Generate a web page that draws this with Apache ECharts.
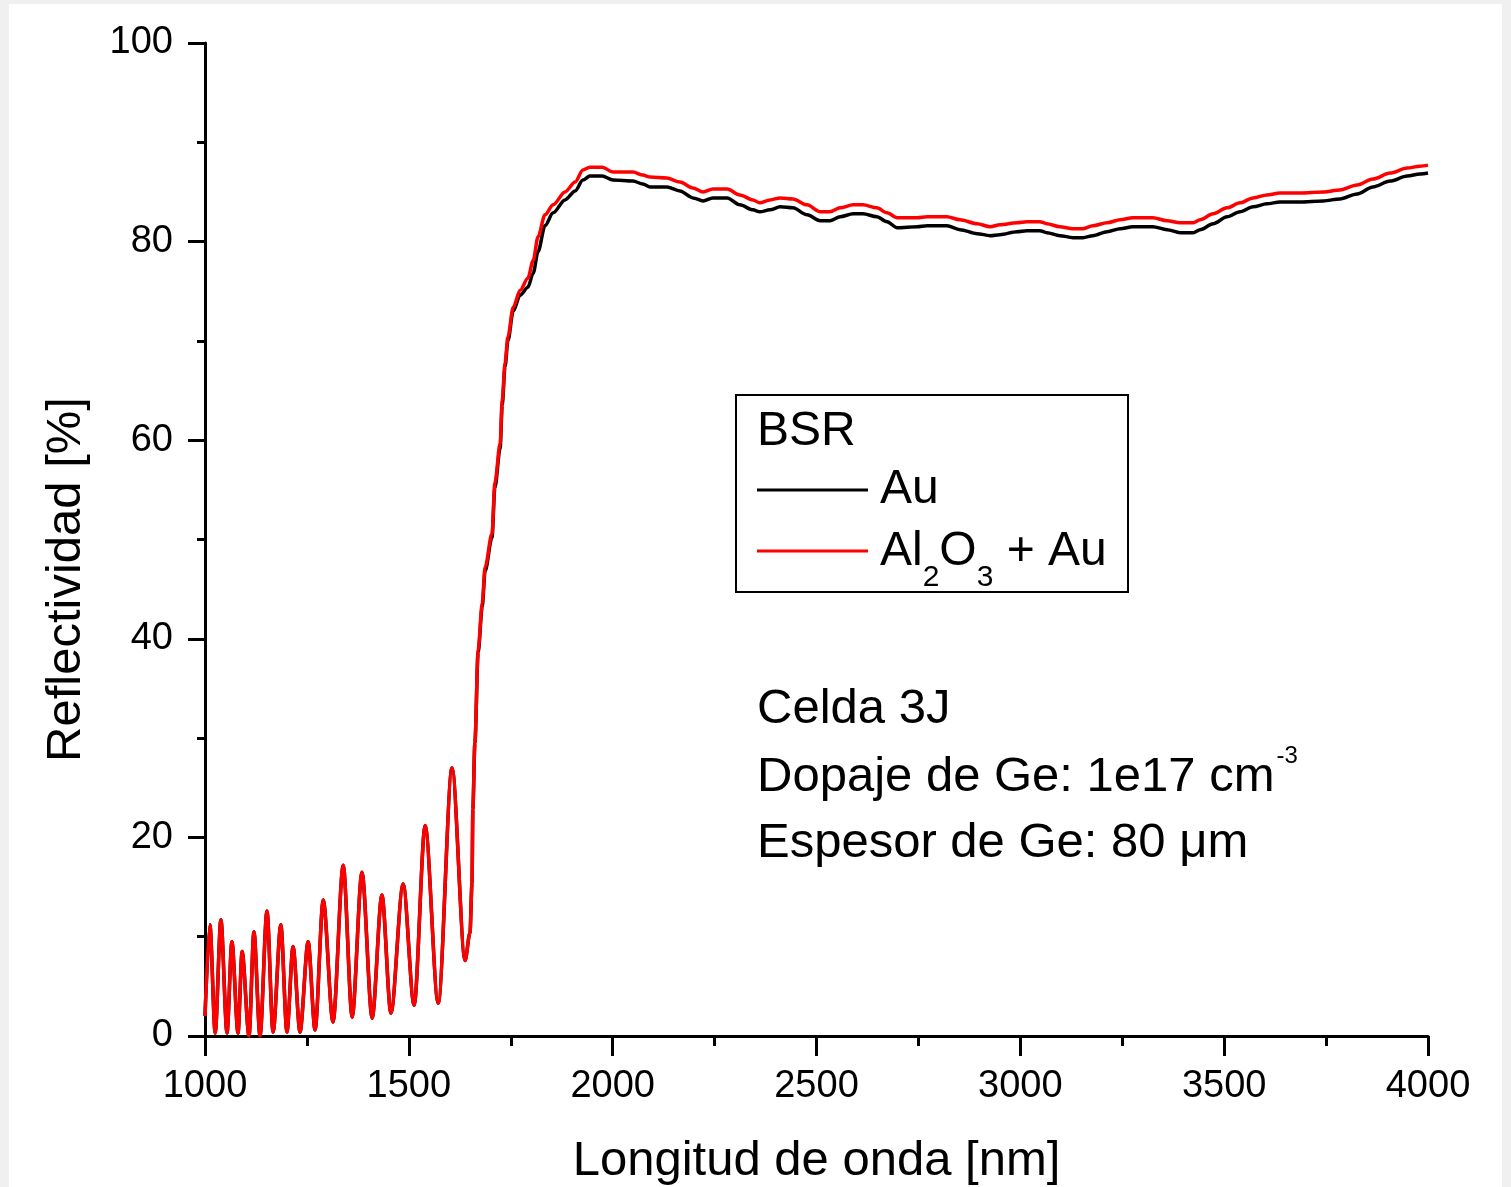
<!DOCTYPE html>
<html>
<head>
<meta charset="utf-8">
<script src="https://cdn.jsdelivr.net/npm/echarts@6/dist/echarts.min.js"></script>
<style>
html,body{margin:0;padding:0;background:#f0f0f0;width:1511px;height:1187px;overflow:hidden}
#chart{position:absolute;left:9px;top:4px;width:1493px;height:1183px;background:#ffffff}
</style>
</head>
<body>
<div id="chart"></div>
<script>
// Wavelength [nm]
const wavelength = [
  1000,1012,1025,1039,1054,1066,1081,1091,1108,1120,1135,1152,1167,1186,1201,1216,1233,1253,1270,1290,1314,1339,1361,1385,1410,1434,1456,1486,1513,1540,1572,1606,1638,
  1650,1655,1657,1662,1670,1680,1687,1704,1711,1724,1729,1736,1743,1756,1773,1792,1805,1817,1834,1854,1883,1908,1927,1944,
  1974,2001,2050,2074,2092,2133,2165,2197,2222,2246,2281,2312,2344,2361,2386,2411,2442,2477,2509,2533,2558,2590,2614,2648,2673,2698,2747,2771,2820,2852,2894,2926,2950,2992,3016,3048,3065,3097,3129,3154,3178,3213,3245,3276,3325,3360,3392,3424,3441,3473,3507,3539,3571,3605,3637,3686,3743,3784,3826,3865,3907,3949,3980,4000
];
// Reflectividad [%] - Au
const reflAu = [
  2.0,11.2,0.3,11.7,0.3,9.5,0.3,8.5,0.0,10.5,0.0,12.6,0.4,11.2,0.4,9.0,0.4,9.5,0.6,13.7,1.4,17.2,1.9,16.5,1.8,14.2,2.3,15.3,3.1,21.2,3.3,27.0,7.6,
  10.4,15.4,22.8,29.5,38.6,43.2,46.8,50.2,55.2,59.2,63.5,67.4,70.0,73.0,74.6,75.4,76.8,79.0,81.6,82.9,84.2,85.1,86.2,86.6,
  86.6,86.2,86.1,85.8,85.5,85.5,85.1,84.4,84.1,84.4,84.4,83.7,83.2,83.0,83.2,83.5,83.4,82.7,82.1,82.1,82.5,82.8,82.8,82.5,82.0,81.4,81.5,81.6,81.6,81.2,80.8,80.6,80.7,81.0,81.1,81.1,80.9,80.6,80.4,80.4,80.6,81.0,81.3,81.5,81.5,81.2,80.9,80.9,81.2,81.8,82.5,83.0,83.5,83.8,84.0,84.0,84.1,84.3,84.8,85.5,86.1,86.6,86.8,86.9
];
// Reflectividad [%] - Al2O3 + Au
const reflAl2O3Au = [
  2.0,11.2,0.3,11.7,0.3,9.5,0.3,8.5,0.0,10.5,0.0,12.6,0.4,11.2,0.4,9.0,0.4,9.5,0.6,13.7,1.4,17.2,1.9,16.5,1.8,14.2,2.3,15.3,3.1,21.2,3.3,27.0,7.6,
  10.4,15.4,22.8,29.5,38.9,43.6,47.2,50.6,55.7,59.7,64.0,67.8,70.4,73.4,75.1,76.3,78.1,80.5,82.7,83.7,85.0,86.0,87.2,87.5,
  87.5,87.0,87.0,86.7,86.5,86.4,86.0,85.4,85.0,85.3,85.3,84.7,84.2,83.9,84.2,84.4,84.3,83.7,83.0,83.0,83.4,83.7,83.7,83.4,82.9,82.4,82.4,82.5,82.5,82.2,81.8,81.5,81.7,81.9,82.0,82.0,81.8,81.5,81.3,81.3,81.6,81.9,82.2,82.4,82.4,82.1,81.9,81.9,82.2,82.8,83.4,83.9,84.4,84.7,84.9,84.9,85.0,85.2,85.7,86.3,86.9,87.4,87.6,87.7
];
const seriesNames = ['Au', 'Al2O3 + Au'];
const legendTitle = 'BSR';
const noteLines = ['Celda 3J', 'Dopaje de Ge: 1e17 cm', '-3', 'Espesor de Ge: 80 μm'];

const FONT = '"Liberation Sans", Arial, sans-serif';
const chart = echarts.init(document.getElementById('chart'), null, {renderer: 'canvas'});

const axisCommon = {
  type: 'value',
  nameLocation: 'middle',
  nameMoveOverlap: false,
  axisLine: {show: true, onZero: false, lineStyle: {color: '#000', width: 3}},
  splitLine: {show: false},
  minorSplitLine: {show: false}
};

const option = {
  backgroundColor: '#ffffff',
  animation: false,
  grid: {left: 196, top: 39, width: 1223, height: 993, containLabel: false, outerBoundsMode: 'none'},
  xAxis: Object.assign({}, axisCommon, {
    min: 1000, max: 4000, interval: 500,
    name: 'Longitud de onda [nm]', nameGap: 101,
    nameTextStyle: {fontFamily: FONT, fontSize: 49, color: '#000'},
    axisTick: {show: true, inside: false, length: 20, lineStyle: {color: '#000', width: 3}},
    minorTick: {show: true, splitNumber: 2, length: 10, lineStyle: {color: '#000', width: 3}},
    axisLabel: {fontFamily: FONT, fontSize: 38, color: '#000', margin: 32, showMinLabel: true, showMaxLabel: true, hideOverlap: false,
      formatter: function (v) { return String(v); }}
  }),
  yAxis: Object.assign({}, axisCommon, {
    min: 0, max: 100, interval: 20,
    name: 'Reflectividad [%]', nameGap: 114, nameRotate: 90,
    nameTextStyle: {fontFamily: FONT, fontSize: 49, color: '#000', padding: [0, 80, 0, 0]},
    axisTick: {show: true, inside: false, length: 17, lineStyle: {color: '#000', width: 3}},
    minorTick: {show: true, splitNumber: 2, length: 8, lineStyle: {color: '#000', width: 3}},
    axisLabel: {fontFamily: FONT, fontSize: 38, color: '#000', margin: 32, showMinLabel: true, showMaxLabel: true, hideOverlap: false,
      formatter: function (v) { return String(v); }}
  }),
  legend: [
    {
      data: [{name: seriesNames[0], icon: 'rect'}],
      left: 748, top: 461, padding: 0, itemWidth: 111, itemHeight: 3, selectedMode: false,
      textStyle: {fontFamily: FONT, fontSize: 48, color: '#000', lineHeight: 50, padding: [0, 0, 0, 7]}
    },
    {
      data: [{name: seriesNames[1], icon: 'rect'}],
      left: 748, top: 522, padding: 0, itemWidth: 111, itemHeight: 3, selectedMode: false,
      formatter: function () { return '{a|Al}{s|2}{a|O}{s|3}{a| + Au}'; },
      textStyle: {
        fontFamily: FONT, fontSize: 48, color: '#000', padding: [0, 0, 0, 7],
        rich: {
          a: {fontFamily: FONT, fontSize: 48, color: '#000', lineHeight: 50, padding: [2, 0, 38, 0], verticalAlign: 'top'},
          s: {fontFamily: FONT, fontSize: 30, color: '#000', lineHeight: 30, padding: [37, 0, 23, 0], verticalAlign: 'top'}
        }
      }
    }
  ],
  graphic: [
    {type: 'rect', shape: {x: 727, y: 391, width: 392, height: 197}, style: {fill: 'none', stroke: '#000', lineWidth: 2}, z: 10},
    {type: 'text', x: 748, y: 428, style: {text: legendTitle, fontFamily: FONT, fontSize: 48, fill: '#000', align: 'left', verticalAlign: 'middle'}, z: 10},
    {type: 'text', x: 748, y: 705, style: {text: noteLines[0], fontFamily: FONT, fontSize: 49, fill: '#000', align: 'left', verticalAlign: 'middle'}, z: 10},
    {type: 'text', x: 748, y: 754, style: {
      text: '{a|' + noteLines[1] + '}{p|' + noteLines[2] + '}',
      fontFamily: FONT, fontSize: 49, fill: '#000', align: 'left', verticalAlign: 'middle',
      rich: {
        a: {fontFamily: FONT, fontSize: 49, fill: '#000', lineHeight: 50, padding: [20, 0, 20, 0], verticalAlign: 'top'},
        p: {fontFamily: FONT, fontSize: 24, fill: '#000', lineHeight: 24, padding: [11, 0, 55, 2], verticalAlign: 'top'}
      }
    }, z: 10},
    {type: 'text', x: 748, y: 839, style: {text: noteLines[3], fontFamily: FONT, fontSize: 49, fill: '#000', align: 'left', verticalAlign: 'middle'}, z: 10}
  ],
  series: [
    {
      name: seriesNames[0], type: 'line', z: 2,
      data: wavelength.map(function (w, i) { return [w, reflAu[i]]; }),
      showSymbol: false, symbol: 'none', smooth: 0.3, smoothMonotone: 'x',
      lineStyle: {color: '#000000', width: 3.5, join: 'round'},
      itemStyle: {color: '#000000'}
    },
    {
      name: seriesNames[1], type: 'line', z: 3,
      data: wavelength.map(function (w, i) { return [w, reflAl2O3Au[i]]; }),
      showSymbol: false, symbol: 'none', smooth: 0.3, smoothMonotone: 'x',
      lineStyle: {color: '#ff0000', width: 3.5, join: 'round'},
      itemStyle: {color: '#ff0000'}
    }
  ]
};
chart.setOption(option);
</script>
</body>
</html>
